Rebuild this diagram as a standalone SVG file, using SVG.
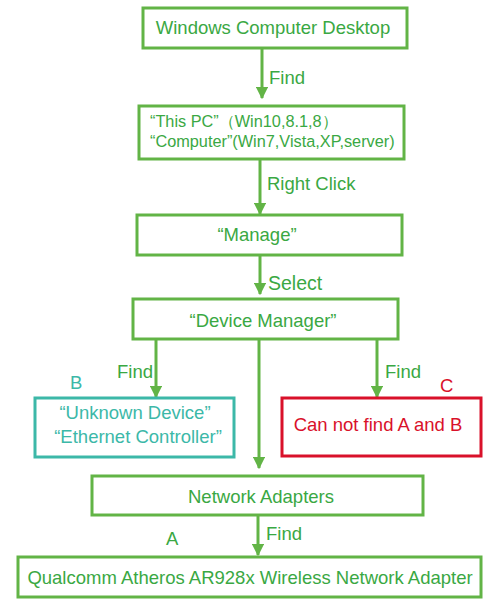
<svg xmlns="http://www.w3.org/2000/svg" width="502" height="602" viewBox="0 0 502 602">
<style>
.g{fill:#fff;stroke:#62b446;stroke-width:3}
.t{fill:#3aa843;font-family:"Liberation Sans",Arial,sans-serif;font-size:18.5px}
.c{stroke:#62b446;stroke-width:3;fill:none}
.m{text-anchor:middle}
</style>
<defs>
<marker id="ah" viewBox="0 0 10 10" refX="9" refY="5" markerWidth="4.2" markerHeight="4.2" orient="auto" markerUnits="strokeWidth">
<path d="M0,0 L10,5 L0,10 z" fill="#62b446"/>
</marker>
</defs>
<rect width="502" height="602" fill="#fff"/>
<g id="connectors">
<line class="c" x1="262" y1="48" x2="262" y2="98" marker-end="url(#ah)"/>
<line class="c" x1="260" y1="159" x2="260" y2="214" marker-end="url(#ah)"/>
<line class="c" x1="260" y1="255" x2="260" y2="294" marker-end="url(#ah)"/>
<line class="c" x1="156" y1="339" x2="156" y2="397" marker-end="url(#ah)"/>
<line class="c" x1="259" y1="339" x2="259" y2="468" marker-end="url(#ah)"/>
<line class="c" x1="377" y1="339" x2="377" y2="397" marker-end="url(#ah)"/>
<line class="c" x1="258" y1="515" x2="258" y2="555" marker-end="url(#ah)"/>
<text class="t" x="269" y="84">Find</text>
<text class="t" x="267" y="190">Right Click</text>
<text class="t" x="268" y="290" style="font-size:19.5px">Select</text>
<text class="t" x="117" y="378">Find</text>
<text class="t" x="385" y="378">Find</text>
<text class="t" x="266" y="540">Find</text>
</g>
<g id="n1"><rect class="g" x="143" y="8" width="264" height="40"/><text class="t m" x="273" y="34">Windows Computer Desktop</text></g>
<g id="n2"><rect class="g" x="139" y="106" width="265" height="53"/><text class="t" x="150" y="127" style="font-size:16.3px">“This PC”（Win10,8.1,8）</text><text class="t" x="150" y="147" style="font-size:16.3px">“Computer”(Win7,Vista,XP,server)</text></g>
<g id="n3"><rect class="g" x="137" y="215" width="265" height="40"/><text class="t m" x="257" y="241">“Manage”</text></g>
<g id="n4"><rect class="g" x="133" y="299" width="265" height="40"/><text class="t m" x="263" y="327">“Device Manager”</text></g>
<g id="nB"><rect x="35" y="398" width="199" height="59" fill="#fff" stroke="#3cb8a8" stroke-width="3"/><text class="t m" x="135" y="419" style="fill:#3cb8a8">“Unknown Device”</text><text class="t m" x="138" y="443" style="fill:#3cb8a8">“Ethernet Controller”</text><text class="t" x="70" y="389" style="fill:#3cb8a8">B</text></g>
<g id="nC"><rect x="282" y="398" width="199" height="58" fill="#fff" stroke="#d9112a" stroke-width="3"/><text class="t m" x="378" y="431" style="fill:#d9112a">Can not find A and B</text><text class="t" x="440" y="392" style="fill:#d9112a">C</text></g>
<g id="n5"><rect class="g" x="92" y="476" width="331" height="39"/><text class="t m" x="261" y="503">Network Adapters</text></g>
<g id="n6"><rect class="g" x="18" y="557" width="463" height="40"/><text class="t m" x="250" y="584">Qualcomm Atheros AR928x Wireless Network Adapter</text><text class="t" x="166" y="545">A</text></g>
</svg>
